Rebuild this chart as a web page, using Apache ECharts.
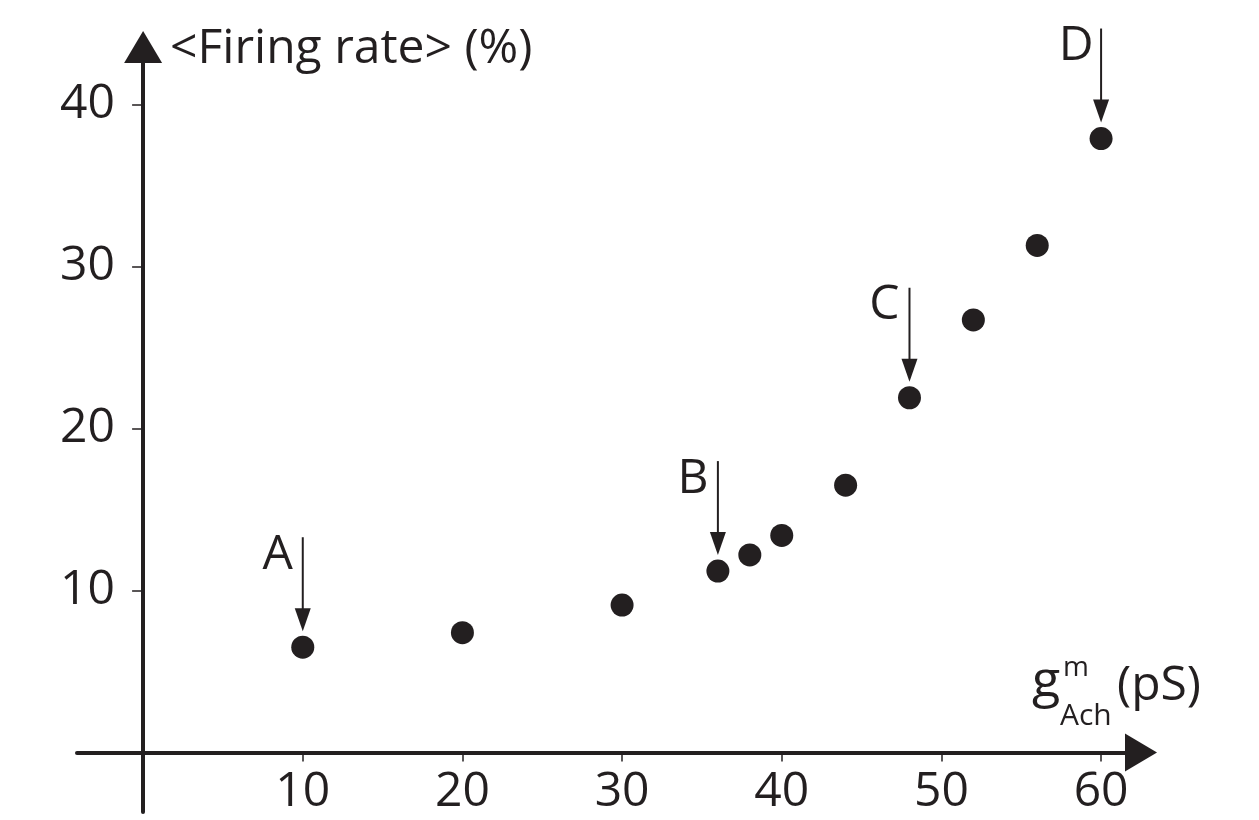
<!DOCTYPE html>
<html>
<head>
<meta charset="utf-8">
<script src="https://cdn.jsdelivr.net/npm/echarts@6/dist/echarts.min.js"></script>
<style>
html,body{margin:0;padding:0;background:#fff;}
#chart{width:1259px;height:820px;}
</style>
</head>
<body>
<div id="chart"></div>
<script>
// Data
const gAch = [10, 20, 30, 36, 38, 40, 44, 48, 52, 56, 60];
const firingRate = [6.5, 7.4, 9.1, 11.2, 12.2, 13.4, 16.5, 21.9, 26.7, 31.3, 37.9];
const xTicks = [10, 20, 30, 40, 50, 60];
const yTicks = [10, 20, 30, 40];
const markedX = [10, 36, 48, 60];
const markedLabels = ['A', 'B', 'C', 'D'];

const INK = '#231f20';
const FONT = '"Open Sans", "Noto Sans", sans-serif';

const chart = echarts.init(document.getElementById('chart'), null, {renderer: 'canvas'});

const option = {
  animation: false,
  backgroundColor: '#ffffff',
  grid: {left: 77, right: 118, top: 47, bottom: 8, containLabel: false, outerBoundsMode: 'none'},
  xAxis: {
    type: 'value',
    min: -4.14,
    max: 62.5,
    axisLine: {
      onZero: true,
      symbol: ['none', 'triangle'],
      symbolSize: [38, 32],
      lineStyle: {color: INK, width: 4}
    },
    axisTick: {show: true, customValues: xTicks, length: 9, lineStyle: {color: INK, width: 1.5}},
    axisLabel: {customValues: xTicks, margin: -44, fontSize: 48, fontFamily: FONT, color: INK},
    splitLine: {show: false}
  },
  yAxis: {
    type: 'value',
    min: -3.67,
    max: 43.55,
    name: '<Firing rate> (%)',
    nameLocation: 'end',
    nameGap: -2,
    nameTextStyle: {fontSize: 48, fontFamily: FONT, color: INK, align: 'left', verticalAlign: 'middle', padding: [0, 0, 0, 27]},
    axisLine: {
      onZero: true,
      symbol: ['none', 'triangle'],
      symbolSize: [38, 32],
      lineStyle: {color: INK, width: 4}
    },
    axisTick: {show: true, customValues: yTicks, length: 11, lineStyle: {color: INK, width: 1.5}},
    axisLabel: {customValues: yTicks, margin: -38, fontSize: 48, fontFamily: FONT, color: INK},
    splitLine: {show: false}
  },
  series: [{
    type: 'scatter',
    data: gAch.map((x, i) => [x, firingRate[i]]),
    symbol: 'circle',
    symbolSize: 23,
    itemStyle: {color: INK, opacity: 1},
    silent: true
  }]
};
chart.setOption(option);

// Annotations (arrows + letters) placed from the data through the chart's scales
const graphics = [];
markedX.forEach((x, k) => {
  const y = firingRate[gAch.indexOf(x)];
  const p = chart.convertToPixel({seriesIndex: 0}, [x, y]);
  const tipY = p[1] - 16;
  const headLen = 23, headW = 16;
  graphics.push({
    type: 'line', silent: true,
    shape: {x1: p[0], y1: p[1] - 110, x2: p[0], y2: tipY - headLen + 2},
    style: {stroke: INK, lineWidth: 2}
  });
  graphics.push({
    type: 'polygon', silent: true,
    shape: {points: [[p[0] - headW / 2, tipY - headLen], [p[0] + headW / 2, tipY - headLen], [p[0], tipY]]},
    style: {fill: INK}
  });
  graphics.push({
    type: 'text', silent: true,
    style: {text: markedLabels[k], x: p[0] - 25, y: p[1] - 92, align: 'center', verticalAlign: 'middle',
            font: '48px ' + FONT, fill: INK}
  });
});

// x-axis name: g with superscript m and subscript Ach, then (pS)
graphics.push({type: 'text', silent: true, style: {text: 'g', x: 1032, y: 682, align: 'left', verticalAlign: 'middle', font: '52px ' + FONT, fill: INK}});
graphics.push({type: 'text', silent: true, style: {text: 'm', x: 1063, y: 668, align: 'left', verticalAlign: 'middle', font: '28px ' + FONT, fill: INK}});
graphics.push({type: 'text', silent: true, style: {text: 'Ach', x: 1060, y: 716, align: 'left', verticalAlign: 'middle', font: '30px ' + FONT, fill: INK}});
graphics.push({type: 'text', silent: true, style: {text: '(pS)', x: 1117, y: 686, align: 'left', verticalAlign: 'middle', font: '48px ' + FONT, fill: INK}});

chart.setOption({graphic: graphics});
</script>
</body>
</html>
